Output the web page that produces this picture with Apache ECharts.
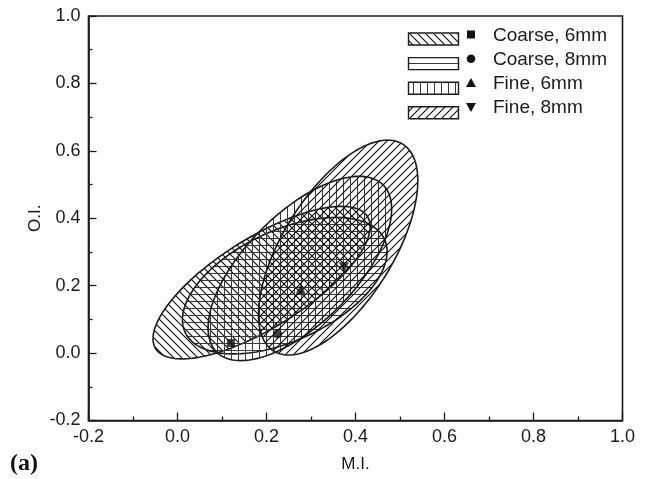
<!DOCTYPE html>
<html>
<head>
<meta charset="utf-8">
<script src="https://cdn.jsdelivr.net/npm/echarts@6/dist/echarts.min.js"></script>
<style>
  html, body { margin: 0; padding: 0; background: #fff; }
  #chart { width: 651px; height: 479px; }
</style>
</head>
<body>
<div id="chart"></div>
<script>
// Tick values shared by both axes
const xTicks = [-0.2, 0.0, 0.2, 0.4, 0.6, 0.8, 1.0];
const yTicks = [-0.2, 0.0, 0.2, 0.4, 0.6, 0.8, 1.0];

// Groups (aggregate size and cut length)
const groups = ['Coarse, 6mm', 'Coarse, 8mm', 'Fine, 6mm', 'Fine, 8mm'];

// Group means: M.I. and O.I.
const meanMI = [0.12, 0.225, 0.277, 0.374];
const meanOI = [0.03, 0.057, 0.19, 0.255];

// Scatter ellipses: centre, major semi-axis vector and minor semi-axis vector (data units)
const ellCenterMI = [0.189, 0.241, 0.275, 0.361];
const ellCenterOI = [0.209, 0.200, 0.251, 0.313];
const ellMajorMI  = [0.238, 0.224, 0.187, 0.145];
const ellMajorOI  = [0.196, 0.138, 0.248, 0.307];
const ellMinorMI  = [0.054, 0.052, 0.087, 0.105];
const ellMinorOI  = [-0.113, -0.148, -0.115, -0.086];

const FONT = '"Liberation Sans", Arial, Helvetica, sans-serif';
const INK = '#1a1a1a';

// Hatch tiles: back-slash, horizontal, vertical, forward-slash
function hatch(kind) {
  const c = document.createElement('canvas');
  const straight = (kind === 'h' || kind === 'v');
  const s = straight ? 7 : 8;
  c.width = s; c.height = s;
  const g = c.getContext('2d');
  g.strokeStyle = straight ? '#3a3a3a' : '#111';
  g.lineWidth = straight ? 1 : 1.15;
  g.beginPath();
  if (kind === 'bs') {
    for (let k = -1; k <= 1; k++) { g.moveTo(-1, k * s - 1); g.lineTo(s + 1, s + k * s + 1); }
  } else if (kind === 'fs') {
    for (let k = 0; k <= 2; k++) { g.moveTo(-1, k * s + 1); g.lineTo(s + 1, k * s - s - 1); }
  } else if (kind === 'h') {
    g.moveTo(0, 0.5); g.lineTo(s, 0.5);
  } else {
    g.moveTo(0.5, 0); g.lineTo(0.5, s);
  }
  g.stroke();
  return { image: c, repeat: 'repeat' };
}
const patterns = [hatch('bs'), hatch('h'), hatch('v'), hatch('fs')];

const ellipseData = groups.map((name, i) => [
  ellCenterMI[i], ellCenterOI[i], ellMajorMI[i], ellMajorOI[i], ellMinorMI[i], ellMinorOI[i]
]);

// Mean markers: square, circle, up-triangle, down-triangle
const symbols = ['rect', 'circle', 'triangle', 'triangle'];
const symbolRotations = [0, 0, 0, 180];
const symbolSizes = [8, 9, 10, 10];
const meanData = groups.map((name, i) => ({
  value: [meanMI[i], meanOI[i]],
  symbol: symbols[i],
  symbolRotate: symbolRotations[i],
  symbolSize: symbolSizes[i]
}));

// Legend: hatched swatch, marker, label per group
const legendGraphics = [];
groups.forEach((name, i) => {
  const swatchY = 39 + i * 24.6;
  const textY = 36 + i * 24;
  legendGraphics.push({
    type: 'rect',
    shape: { x: 408.5, y: swatchY - 6, width: 50, height: 12 },
    style: { fill: patterns[i], stroke: INK, lineWidth: 1.4 },
    z: 10
  });
  legendGraphics.push({
    type: 'text',
    style: { x: 493, y: textY, text: name, font: '19px ' + FONT, fill: INK, verticalAlign: 'middle' },
    z: 10
  });
});
const mk = i => 34.5 + i * 24.2;
legendGraphics.push(
  { type: 'rect', shape: { x: 467, y: mk(0) - 4, width: 8, height: 8 }, style: { fill: '#111' }, z: 10 },
  { type: 'circle', shape: { cx: 471, cy: mk(1), r: 4.3 }, style: { fill: '#111' }, z: 10 },
  { type: 'polygon', shape: { points: [[471, mk(2) - 5], [476, mk(2) + 4], [466, mk(2) + 4]] }, style: { fill: '#111' }, z: 10 },
  { type: 'polygon', shape: { points: [[466, mk(3) - 4], [476, mk(3) - 4], [471, mk(3) + 5]] }, style: { fill: '#111' }, z: 10 },
  {
    type: 'text',
    style: { x: 10, y: 464, text: '(a)', font: 'bold 24px "Liberation Serif", "Times New Roman", serif', fill: '#111', verticalAlign: 'middle' },
    z: 10
  }
);

const chart = echarts.init(document.getElementById('chart'), null, { renderer: 'canvas' });

const axisCommon = {
  type: 'value',
  min: -0.2, max: 1.0, interval: 0.2,
  axisLine: { show: true, onZero: false, lineStyle: { color: INK, width: 1.6 } },
  axisTick: { show: true, inside: true, length: 8, lineStyle: { color: INK, width: 1.3 } },
  minorTick: { show: true, splitNumber: 2, length: 4, lineStyle: { color: INK, width: 1.3 } },
  splitLine: { show: false },
  axisLabel: {
    color: INK, fontSize: 18, fontFamily: FONT, margin: 8,
    formatter: v => v.toFixed(1)
  },
  nameLocation: 'middle',
  nameMoveOverlap: false,
  nameTextStyle: { color: INK, fontSize: 17, fontFamily: FONT }
};

chart.setOption({
  animation: false,
  backgroundColor: '#fff',
  grid: {
    left: 88.5, right: 28.5, top: 16, bottom: 58.5,
    show: true, borderColor: INK, borderWidth: 1.6, backgroundColor: 'transparent'
  },
  xAxis: Object.assign({}, axisCommon, { name: 'M.I.', nameGap: 35 }),
  yAxis: Object.assign({}, axisCommon, { name: 'O.I.', nameGap: 45 }),
  series: [
    {
      type: 'custom',
      name: 'ellipses',
      coordinateSystem: 'cartesian2d',
      clip: true,
      encode: { x: 0, y: 1 },
      data: ellipseData,
      renderItem: function (params, api) {
        const cx = api.value(0), cy = api.value(1);
        const ux = api.value(2), uy = api.value(3);
        const vx = api.value(4), vy = api.value(5);
        const pts = [];
        const n = 160;
        for (let k = 0; k < n; k++) {
          const t = 2 * Math.PI * k / n;
          const c = Math.cos(t), s = Math.sin(t);
          pts.push(api.coord([cx + ux * c + vx * s, cy + uy * c + vy * s]));
        }
        return {
          type: 'polygon',
          shape: { points: pts },
          style: { fill: patterns[params.dataIndex], stroke: INK, lineWidth: 1.6 }
        };
      },
      z: 2
    },
    {
      type: 'scatter',
      name: 'means',
      data: meanData,
      itemStyle: { color: '#111' },
      z: 3
    }
  ],
  graphic: legendGraphics
});
</script>
</body>
</html>
